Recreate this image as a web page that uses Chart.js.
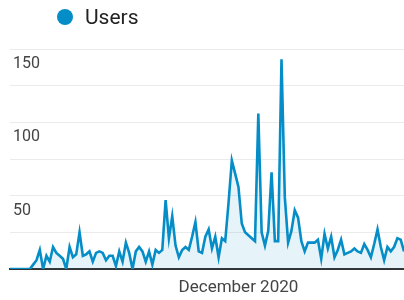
<!DOCTYPE html>
<html>
<head>
<meta charset="utf-8">
<script src="https://cdn.jsdelivr.net/npm/chart.js@4/dist/chart.umd.min.js"></script>
<style>
  html, body { margin: 0; padding: 0; background: #fff; }
  #wrap { position: relative; width: 404px; height: 300px; overflow: hidden; }
  #chart { position: absolute; left: 0; top: 0; }
  #legend { position: absolute; left: 57px; top: 7px; height: 21px; font-family: Roboto, Arial, sans-serif; font-size: 21px; line-height: 21px; color: #222; white-space: nowrap; }
  #legend .dot { position: absolute; left: 0; top: 2px; width: 16px; height: 16px; border-radius: 50%; }
  #legend .txt { position: absolute; left: 28px; top: 0; }
</style>
</head>
<body>
<div id="wrap">
  <canvas id="chart" width="404" height="300"></canvas>
  <div id="legend"></div>
</div>
<script>
// ---- data ----
const seriesName = 'Users';
const startDate = '2020-09-23';   // first day shown
const dayCount = 120;
const tickDates = ['2020-12-01'];
const tickLabels = ['December 2020'];
const yTicks = [0, 25, 50, 75, 100, 125, 150];
const yLabelled = [50, 100, 150];
const users = [
  0, 0, 0, 0, 0, 0, 0, 3, 6, 13,
  0, 9, 5, 15, 11, 9, 7, 0, 15, 8,
  10, 25, 9, 10, 12, 5, 11, 12, 11, 6,
  9, 9, 2, 12, 5, 18, 11, 0, 12, 15,
  12, 5, 12, 3, 13, 11, 13, 47, 21, 36,
  16, 8, 13, 15, 13, 22, 32, 12, 11, 22,
  27, 14, 22, 8, 21, 19, 45, 74, 65, 56,
  31, 25, 23, 21, 19, 106, 25, 16, 26, 66,
  19, 19, 143, 49, 18, 26, 40, 35, 19, 12,
  18, 18, 18, 20, 7, 24, 14, 22, 8, 13,
  20, 10, 11, 12, 14, 12, 11, 17, 13, 8,
  17, 27, 15, 6, 15, 12, 15, 21, 20, 12
];

// ---- categories (one per day) ----
const categories = [];
{
  const d0 = new Date(startDate + 'T00:00:00Z');
  for (let i = 0; i < dayCount; i++) {
    const d = new Date(d0.getTime() + i * 86400000);
    categories.push(d.toISOString().slice(0, 10));
  }
}

const lineColor = '#058dc7';

// HTML legend built from the dataset name
const legend = document.getElementById('legend');
legend.innerHTML = '<span class="dot" style="background:' + lineColor + '"></span><span class="txt">' + seriesName + '</span>';

function zeroPad(scale) {
  scale.paddingLeft = 0; scale.paddingRight = 0;
  scale.paddingTop = 0; scale.paddingBottom = 0;
}

new Chart(document.getElementById('chart'), {
  type: 'line',
  data: {
    labels: categories,
    datasets: [{
      label: seriesName,
      data: users,
      borderColor: lineColor,
      borderWidth: 2.6,
      backgroundColor: 'rgba(5,141,199,0.10)',
      fill: 'origin',
      tension: 0,
      pointRadius: 0,
      pointHoverRadius: 0,
      borderJoinStyle: 'miter'
    }]
  },
  options: {
    responsive: false,
    animation: false,
    events: [],
    layout: { padding: { top: 49, left: 10, right: 0, bottom: 0 } },
    plugins: { legend: { display: false }, tooltip: { enabled: false } },
    scales: {
      x: {
        offset: false,
        afterFit: s => { s.height = 31; zeroPad(s); },
        grid: { display: false, drawTicks: false },
        border: { display: true, color: '#333', width: 2 },
        ticks: {
          autoSkip: false,
          maxRotation: 0,
          minRotation: 0,
          padding: 9,
          color: '#444',
          font: { family: 'Roboto, Arial, sans-serif', size: 17 },
          callback: function (v, i) {
            const k = tickDates.indexOf(categories[i]);
            return k >= 0 ? tickLabels[k] : '';
          }
        }
      },
      y: {
        min: yTicks[0],
        max: yTicks[yTicks.length - 1],
        afterBuildTicks: function (scale) { scale.ticks = yTicks.map(v => ({ value: v })); },
        afterFit: s => { s.width = 0; zeroPad(s); },
        grid: {
          drawTicks: false,
          color: ctx => (ctx.tick && ctx.tick.value === 0) ? 'rgba(0,0,0,0)' : '#ebebeb',
          lineWidth: 1
        },
        border: { display: false },
        ticks: {
          mirror: true,
          padding: 3,
          labelOffset: 15,
          color: '#444',
          font: { family: 'Roboto, Arial, sans-serif', size: 16 },
          callback: v => yLabelled.includes(v) ? String(v) : ''
        }
      }
    }
  }
});
</script>
</body>
</html>
